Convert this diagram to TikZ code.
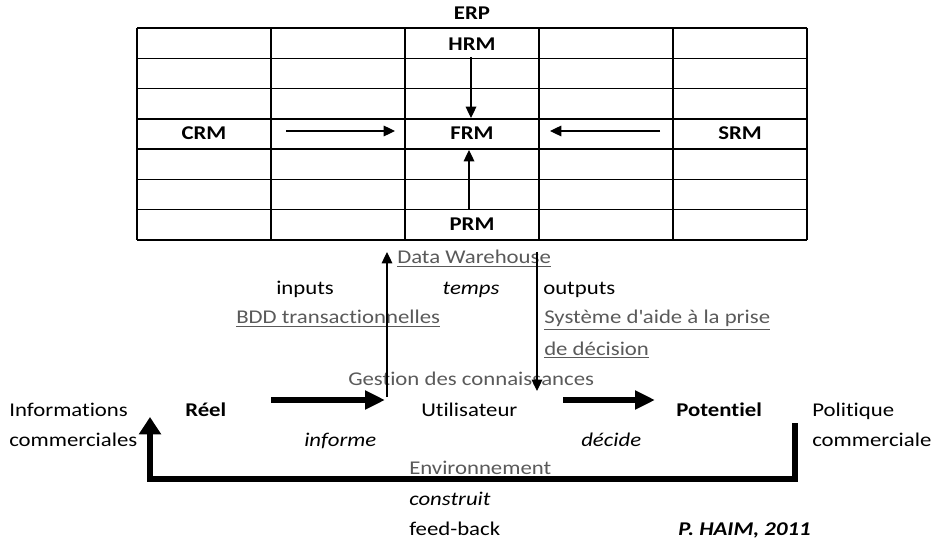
\documentclass[tikz,border=0pt]{standalone}
\usepackage{fontspec}
\setmainfont{Carlito}[FakeStretch=1.17,Ligatures={NoCommon,TeX}]
\usetikzlibrary{arrows.meta}
\definecolor{txtgray}{HTML}{5A5A5A}
\newcommand{\fs}{\fontsize{14.6}{17}\selectfont}
\begin{document}
\begin{tikzpicture}[x=0.75pt,y=-0.75pt,
  every node/.style={inner sep=0pt, font=\fs},
  lt/.style={anchor=base west},
  ct/.style={anchor=base},
  gr/.style={text=txtgray},
  bold/.style={font=\fs\bfseries},
  ital/.style={font=\fs\itshape},
  grid/.style={line width=1.1pt},
  thinarr/.style={line width=0.9pt, -{Triangle[length=8.5pt,width=8pt]}},
  thickarr/.style={line width=4.5pt, -{Triangle[length=15pt,width=13.5pt]}},
  fbarr/.style={line width=4.8pt, line join=miter, -{Triangle[length=13pt,width=16pt]}}]
\useasboundingbox (0,0) rectangle (935,538);
% ---- table ----
\foreach \yy in {28,58.3,88.6,118.9,149.1,179.4,209.7,240}
  \draw[grid] (137,\yy) -- (807,\yy);
\foreach \xx in {137,271,405,539,673,807}
  \draw[grid] (\xx,28) -- (\xx,240);
\node[ct,bold] (erp) at (472,20) {ERP};
\node[ct,bold] (hrm) at (472,51) {HRM};
\node[ct,bold] (frm) at (472,140) {FRM};
\node[ct,bold] (prm) at (472,231) {PRM};
\node[ct,bold] (crm) at (204,140) {CRM};
\node[ct,bold] (srm) at (740,140) {SRM};
\coordinate (hrmA) at (471,57);
\coordinate (hrmB) at (471,118);
\coordinate (prmA) at (469,210);
\coordinate (prmB) at (469,150);
\coordinate (crmA) at (286,131);
\coordinate (crmB) at (395,131);
\coordinate (srmA) at (660,131);
\coordinate (srmB) at (550,131);
\draw[thinarr] (hrmA) -- (hrmB);
\draw[thinarr] (prmA) -- (prmB);
\draw[thinarr] (crmA) -- (crmB);
\draw[thinarr] (srmA) -- (srmB);
% ---- middle ----
\node[lt,gr] (dw) at (397,264) {\underline{Data Warehouse}};
\node[lt] (inputs) at (276,295) {inputs};
\node[ct,ital] (temps) at (471,295) {temps};
\node[lt] (outputs) at (543,295) {outputs};
\node[lt,gr] (bdd) at (236,324) {\underline{BDD transactionnelles}};
\node[lt,gr] (sad) at (544,324) {\underline{Système d\textquotesingle aide à la prise}};
\node[lt,gr] (sad2) at (544,355) {\underline{de décision}};
\node[lt,gr] (gest) at (348,385) {Gestion des connaissances};
\coordinate (upA) at (387,397);
\coordinate (upB) at (387,252);
\coordinate (dnA) at (537,252);
\coordinate (dnB) at (537,391);
\draw[thinarr] (upA) -- (upB);
\draw[thinarr] (dnA) -- (dnB);
% ---- bottom ----
\node[lt] (info) at (9,416) {Informations};
\node[lt] (info2) at (9,446) {commerciales};
\node[lt,bold] (reel) at (185,416) {Réel};
\node[lt] (util) at (421,416) {Utilisateur};
\node[lt,bold] (pot) at (676,416) {Potentiel};
\node[lt] (pol) at (812,416) {Politique};
\node[lt] (pol2) at (812,446) {commerciale};
\node[lt,ital] (inf) at (304,446) {informe};
\node[lt,ital] (dec) at (581,446) {décide};
\node[lt,gr] (env) at (409,474) {Environnement};
\node[lt,ital] (constr) at (409,505) {construit};
\node[lt] (fb) at (409,535) {feed-back};
\node[lt,font=\fs\bfseries\itshape] (haim) at (678,535) {P. HAIM, 2011};
\coordinate (rA) at (271,400);
\coordinate (rB) at (385,400);
\coordinate (pA) at (563,400);
\coordinate (pB) at (655,400);
\draw[thickarr] (rA) -- (rB);
\draw[thickarr] (pA) -- (pB);
\coordinate (fbA) at (795,423);
\coordinate (fbC1) at (795,479);
\coordinate (fbC2) at (150,479);
\coordinate (fbB) at (150,417);
\draw[fbarr] (fbA) -- (fbC1) -- (fbC2) -- (fbB);
\end{tikzpicture}
\end{document}
